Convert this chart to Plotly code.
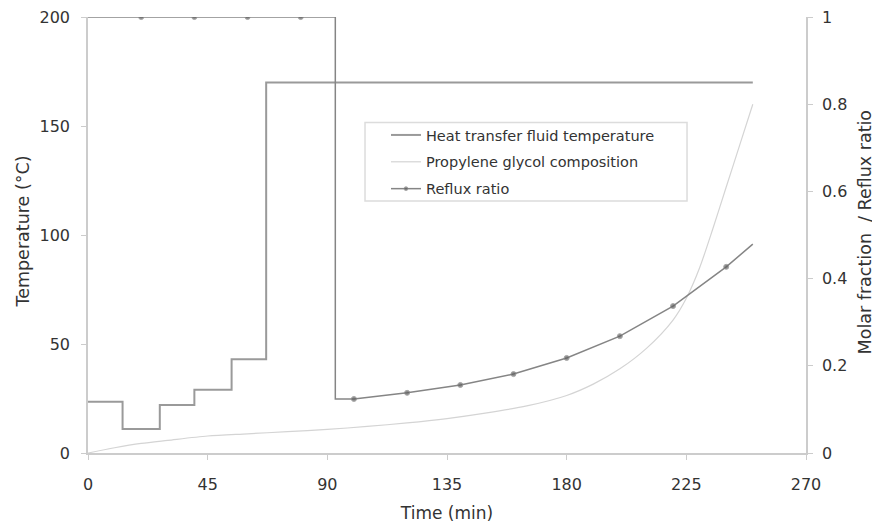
import plotly.graph_objects as go

# Heat transfer fluid temperature (step profile)
temp_time = [0, 13, 27, 40, 54, 67, 250]
temp_value = [23.5, 11, 22, 29, 43, 170, 170]

# Propylene glycol composition (molar fraction)
pg_time = [0, 10, 20, 30, 45, 60, 75, 90, 105, 120, 135, 150, 165, 180, 190,
           200, 210, 220, 225, 230, 235, 240, 245, 250]
pg_value = [0.0, 0.012, 0.022, 0.029, 0.039, 0.044, 0.049, 0.054, 0.061, 0.069,
            0.079, 0.092, 0.108, 0.132, 0.158, 0.193, 0.24, 0.305, 0.355, 0.425,
            0.515, 0.61, 0.705, 0.80]

# Reflux ratio
rr_time = [0, 20, 40, 60, 80, 93, 93, 100, 120, 140, 160, 180, 200, 220, 240, 250]
rr_value = [1, 1, 1, 1, 1, 1, 0.124, 0.124, 0.138, 0.156, 0.181, 0.218, 0.268,
            0.337, 0.427, 0.479]
rr_marked = [False, True, True, True, True, False, False, True, True, True, True,
             True, True, True, True, False]

x_ticks = [0, 45, 90, 135, 180, 225, 270]

FAM = "DejaVu Sans, Verdana, sans-serif"
TXT = "#333333"

fig = go.Figure()
fig.add_trace(go.Scatter(
    x=temp_time, y=temp_value, mode="lines", line_shape="hv",
    line=dict(color="#9a9a9a", width=2),
    name="Heat transfer fluid temperature", yaxis="y", legendgroup="a"))
fig.add_trace(go.Scatter(
    x=pg_time, y=pg_value, mode="lines", line_shape="spline",
    line=dict(color="#d4d4d4", width=1.2, smoothing=0.8),
    name="Propylene glycol composition", yaxis="y2", legendgroup="b"))
fig.add_trace(go.Scatter(
    x=rr_time, y=rr_value, mode="lines+markers",
    line=dict(color="#858585", width=1.5),
    marker=dict(symbol="circle", color="#606060",
                size=[5 if m else 0 for m in rr_marked]),
    name="Reflux ratio", yaxis="y2", legendgroup="c"))

# legend frame
fig.add_shape(type="rect", xref="paper", yref="paper",
              x0=0.3858, x1=0.8343, y0=0.578, y1=0.758,
              line=dict(color="#dcdcdc", width=1.5), fillcolor="rgba(0,0,0,0)",
              layer="below")

# vertical axis titles
fig.add_annotation(text="Temperature (°C)", xref="paper", yref="paper",
                   x=-0.0919, y=0.508, xanchor="center", yanchor="middle",
                   textangle=-90, showarrow=False,
                   font=dict(family=FAM, size=17.5, color=TXT))
fig.add_annotation(text="Molar fraction  / Reflux ratio", xref="paper", yref="paper",
                   x=1.0822, y=0.506, xanchor="center", yanchor="middle",
                   textangle=-90, showarrow=False,
                   font=dict(family=FAM, size=17.5, color=TXT))

axis_common = dict(showgrid=False, zeroline=False, showline=True,
                   linecolor="#cccccc", linewidth=1.5, ticks="outside",
                   ticklen=5, tickcolor="#cccccc", ticklabeloverflow="allow",
                   automargin=False,
                   tickfont=dict(family=FAM, size=16, color=TXT))

fig.update_layout(
    width=880, height=526,
    margin=dict(l=80, r=82, t=9, b=81),
    paper_bgcolor="white", plot_bgcolor="white",
    font=dict(family=FAM, size=16, color=TXT),
    showlegend=True,
    legend=dict(x=0.415, y=0.766, xanchor="left", yanchor="top",
                borderwidth=0, bgcolor="rgba(0,0,0,0)",
                font=dict(family=FAM, size=14.5, color=TXT),
                traceorder="grouped", tracegroupgap=5, itemwidth=30),
    xaxis=dict(range=[0, 270], tickvals=x_ticks, ticklabelstandoff=11,
               title=dict(text="Time (min)", standoff=14,
                          font=dict(family=FAM, size=17, color=TXT)),
               **axis_common),
    yaxis=dict(range=[0, 200], tickvals=[0, 50, 100, 150, 200],
               ticklabelstandoff=8, **axis_common),
    yaxis2=dict(range=[0, 1], tickvals=[0, 0.2, 0.4, 0.6, 0.8, 1],
                ticktext=["0", "0.2", "0.4", "0.6", "0.8", "1"],
                overlaying="y", side="right", ticklabelstandoff=6,
                **axis_common),
)

fig.write_html("out.html")
